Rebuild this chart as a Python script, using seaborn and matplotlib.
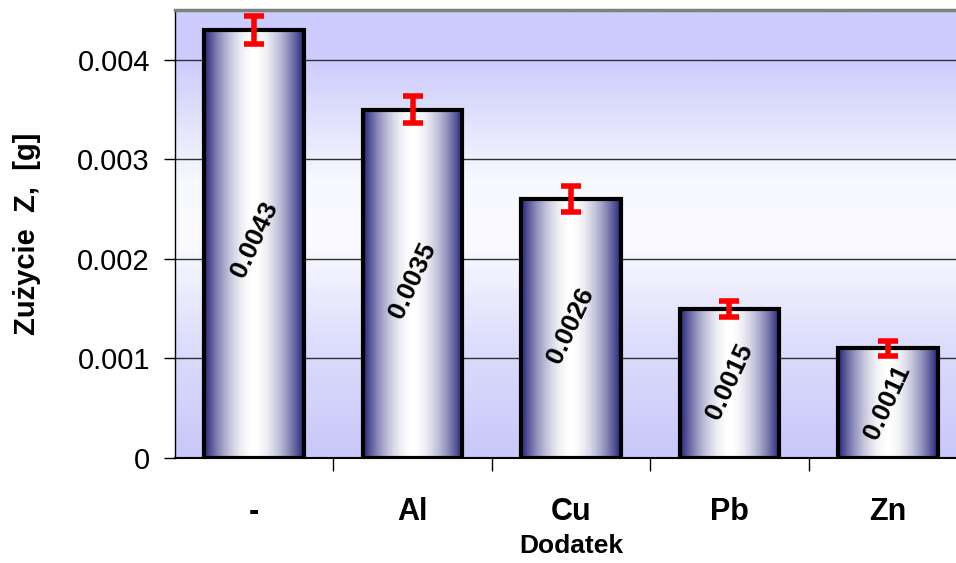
import numpy as np
import seaborn as sns
import matplotlib.pyplot as plt
from matplotlib.colors import LinearSegmentedColormap
from matplotlib.ticker import FixedLocator

categories = ['-', 'Al', 'Cu', 'Pb', 'Zn']
values = [0.0043, 0.0035, 0.0026, 0.0015, 0.0011]
errors = [0.00014, 0.00014, 0.00013, 0.00008, 0.00008]
value_labels = ['0.0043', '0.0035', '0.0026', '0.0015', '0.0011']

sns.set_theme(style='white')
plt.rcParams['font.family'] = ['Liberation Sans', 'DejaVu Sans']
plt.rcParams['text.color'] = 'black'
plt.rcParams['axes.labelcolor'] = 'black'
plt.rcParams['xtick.color'] = 'black'
plt.rcParams['ytick.color'] = 'black'

fig = plt.figure(figsize=(9.56, 5.63), dpi=100)
ax = fig.add_axes([175 / 956, 105 / 563, 792 / 956, 448 / 563])

sns.barplot(x=categories, y=values, width=0.63, ax=ax,
            facecolor='none', edgecolor='black', linewidth=3, zorder=3)

ymax = 0.0045
ax.set_xlim(-0.5, 4.5)
ax.set_ylim(0, ymax)

# background gradient (lavender - white - lavender)
bg = LinearSegmentedColormap.from_list('bg', [
    (0.0, '#c8c8fa'), (0.25, '#dcdcfc'), (0.48, '#fafaff'),
    (0.62, '#f8f8ff'), (0.8, '#dadafc'), (0.89, '#ccccff'), (1.0, '#ccccff')])
ax.imshow(np.linspace(0, 1, 256).reshape(-1, 1), cmap=bg, origin='lower',
          extent=[-0.5, 4.5, 0, ymax], aspect='auto', zorder=0)

# bar gradient (navy edges, white middle)
bar_cmap = LinearSegmentedColormap.from_list('bar', ['#ffffff', '#23237a'])
t = np.abs(np.linspace(-1, 1, 256)) ** 1.8
for p in ax.patches:
    x0, w, h = p.get_x(), p.get_width(), p.get_height()
    im = ax.imshow(t.reshape(1, -1), cmap=bar_cmap, vmin=0, vmax=1,
                   extent=[x0, x0 + w, 0, h], aspect='auto', zorder=2.5)
    im.set_clip_path(p)

ax.set_xlim(-0.5, 4.5)
ax.set_ylim(0, ymax)

ax.errorbar(range(len(values)), values, yerr=errors, fmt='none',
            ecolor='#ff0000', elinewidth=4, capsize=7.5, capthick=4, zorder=5)

for i, (v, lab) in enumerate(zip(values, value_labels)):
    ax.text(i, v * 0.51, lab, rotation=65, ha='center', va='center',
            fontsize=19, fontweight='bold', color='black', zorder=6)

ax.yaxis.grid(True, color='#303030', linewidth=1)
ax.set_axisbelow(True)
ax.set_yticks([0, 0.001, 0.002, 0.003, 0.004])
ax.set_yticklabels(['0', '0.001', '0.002', '0.003', '0.004'])
ax.tick_params(axis='y', which='major', left=True, length=8, width=1,
               color='black', labelsize=21, pad=10, direction='out')

ax.tick_params(axis='x', which='major', length=0, pad=28)
ax.xaxis.set_minor_locator(FixedLocator([0.5, 1.5, 2.5, 3.5]))
ax.tick_params(axis='x', which='minor', bottom=True, length=9, width=1,
               color='black', direction='out')
for lab in ax.get_xticklabels():
    lab.set_fontweight('bold')
    lab.set_fontsize(22)

ax.set_xlabel('Dodatek', fontsize=19, fontweight='bold', labelpad=5)
ax.set_ylabel('Zużycie  Z,  [g]', fontsize=21, fontweight='bold', labelpad=26)

ax.spines['left'].set_color('black')
ax.spines['left'].set_linewidth(1)
ax.spines['bottom'].set_color('black')
ax.spines['bottom'].set_linewidth(1.5)
ax.spines['top'].set_color('#808080')
ax.spines['top'].set_linewidth(2.5)
ax.spines['right'].set_visible(False)

plt.savefig('out.png', dpi=100)
